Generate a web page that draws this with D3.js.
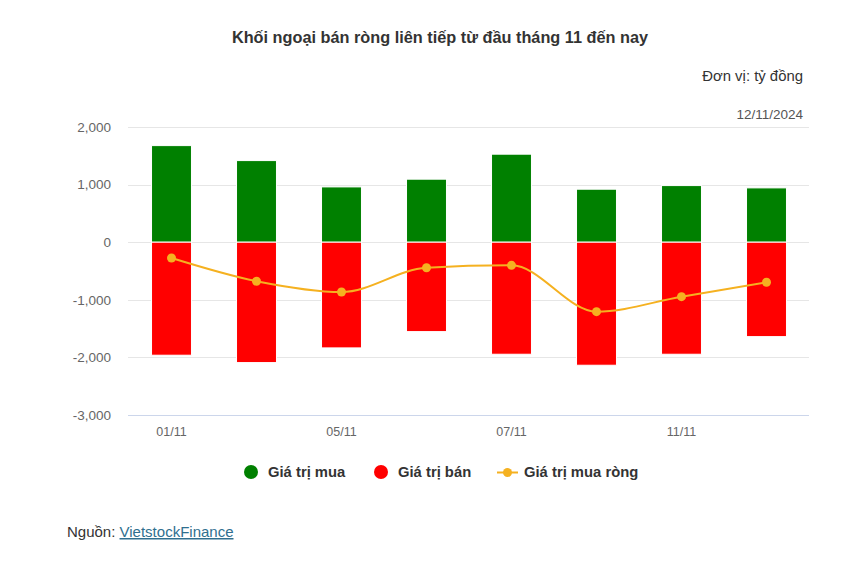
<!DOCTYPE html>
<html><head><meta charset="utf-8">
<script src="https://cdn.jsdelivr.net/npm/d3@7/dist/d3.min.js"></script>
<style>body{margin:0;background:#fff;font-family:"Liberation Sans",Arial,sans-serif;}</style>
</head><body><svg id="c" width="841" height="567"></svg>
<script>
const categories = ["01/11","04/11","05/11","06/11","07/11","08/11","11/11","12/11"];
const buyValues = [1677,1417,960,1094,1528,920,983,943];
const sellValues = [-1962,-2090,-1835,-1552,-1945,-2136,-1945,-1639];
const netValues = [-275,-677,-865,-443,-402,-1206,-946,-695];
const yTicks = [2000,1000,0,-1000,-2000,-3000];
const xTickLabels = ["01/11","05/11","07/11","11/11"];

const svg = d3.select("#c");
svg.append("rect").attr("width",841).attr("height",567).attr("fill","#fff");
const font = '"Liberation Sans",Arial,sans-serif';

const x = d3.scaleBand().domain(categories).range([129,809]).paddingInner(0.53).paddingOuter(0.265);
const y = d3.scaleLinear().domain([-3000,2000]).range([415,127]);

// title
svg.append("text").attr("x",440).attr("y",43).attr("text-anchor","middle")
  .attr("font-family",font).attr("font-size",16.3).attr("font-weight","bold").attr("fill","#333")
  .text("Khối ngoại bán ròng liên tiếp từ đầu tháng 11 đến nay");
svg.append("text").attr("x",803).attr("y",81).attr("text-anchor","end")
  .attr("font-family",font).attr("font-size",14.9).attr("fill","#333").text("Đơn vị: tỷ đồng");
svg.append("text").attr("x",803).attr("y",119).attr("text-anchor","end")
  .attr("font-family",font).attr("font-size",13.5).attr("fill","#555").text("12/11/2024");

// grid
const grid = svg.append("g");
grid.selectAll("line").data(yTicks.filter(d=>d!==-3000)).enter().append("line")
  .attr("x1",128).attr("x2",809).attr("y1",d=>Math.round(y(d))+0.5).attr("y2",d=>Math.round(y(d))+0.5)
  .attr("stroke","#e6e6e6").attr("stroke-width",1);

// y axis
const fmt = d3.format(",");
const yAxis = svg.append("g").attr("transform","translate(128,0)")
  .call(d3.axisLeft(y).tickValues(yTicks).tickSize(0).tickPadding(17).tickFormat(d=>fmt(d).replace("\u2212","-")));
yAxis.select(".domain").remove();
yAxis.selectAll("text").attr("font-family",font).attr("font-size",13.5).attr("fill","#666");

// x axis
const xAxis = svg.append("g").attr("transform","translate(0,415.5)")
  .call(d3.axisBottom(x).tickSize(0).tickPadding(12).tickFormat(d=>xTickLabels.includes(d)?d:""));
xAxis.select(".domain").attr("stroke","#ccd6eb").attr("d","M128,0H809");
xAxis.selectAll("text").attr("font-family",font).attr("font-size",12.5).attr("fill","#666");

// bars
svg.append("g").selectAll("rect").data(categories).enter().append("rect")
  .attr("x",d=>x(d)).attr("width",x.bandwidth())
  .attr("y",(d,i)=>y(buyValues[i])).attr("height",(d,i)=>y(0)-y(buyValues[i]))
  .attr("fill","#008000").attr("stroke","#fff").attr("stroke-width",1);
svg.append("g").selectAll("rect").data(categories).enter().append("rect")
  .attr("x",d=>x(d)).attr("width",x.bandwidth())
  .attr("y",y(0)).attr("height",(d,i)=>y(sellValues[i])-y(0))
  .attr("fill","#ff0000").attr("stroke","#fff").attr("stroke-width",1);

// line
const cx = d=>x(d)+x.bandwidth()/2;
const line = d3.line().x((d,i)=>cx(categories[i])).y(d=>y(d)).curve(d3.curveMonotoneX);
svg.append("path").datum(netValues).attr("d",line).attr("fill","none")
  .attr("stroke","#f5b120").attr("stroke-width",2);
svg.append("g").selectAll("circle").data(netValues).enter().append("circle")
  .attr("cx",(d,i)=>cx(categories[i])).attr("cy",d=>y(d)).attr("r",4.5).attr("fill","#f5b120");

// legend
const lg = svg.append("g").attr("font-family",font).attr("font-size",14.8).attr("font-weight","bold").attr("fill","#333");
lg.append("circle").attr("cx",251).attr("cy",472).attr("r",7).attr("fill","#008000");
lg.append("text").attr("x",268).attr("y",477).text("Giá trị mua");
lg.append("circle").attr("cx",381).attr("cy",472).attr("r",7).attr("fill","#ff0000");
lg.append("text").attr("x",398).attr("y",477).text("Giá trị bán");
lg.append("line").attr("x1",497).attr("x2",518).attr("y1",472.5).attr("y2",472.5).attr("stroke","#f5b120").attr("stroke-width",2);
lg.append("circle").attr("cx",507.5).attr("cy",472.5).attr("r",4.5).attr("fill","#f5b120");
lg.append("text").attr("x",524).attr("y",477).text("Giá trị mua ròng");

// source
const src = svg.append("text").attr("x",67).attr("y",537).attr("font-family",font).attr("font-size",15).attr("fill","#333");
src.append("tspan").text("Nguồn: ");
src.append("tspan").attr("fill","#2f6f8f").attr("text-decoration","underline").text("VietstockFinance");
</script></body></html>
